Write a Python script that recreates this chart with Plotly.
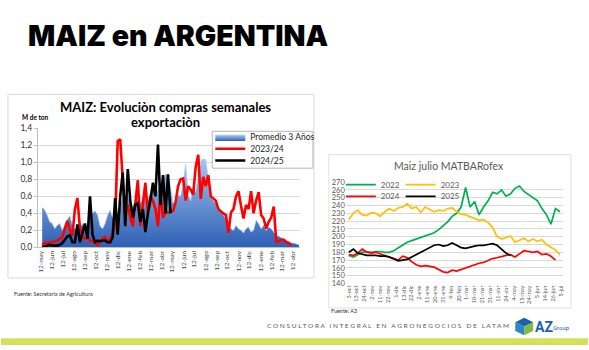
import plotly.graph_objects as go
import pandas as pd

W, H = 589, 350

# ---------------- Left chart data (weekly, M de ton) ----------------
left_week_start = "2023-05-16"
prom_3_anios = [0.47, 0.44, 0.38, 0.30, 0.28, 0.22, 0.26, 0.28, 0.20, 0.27,
                0.33, 0.37, 0.26, 0.22, 0.20, 0.24, 0.28, 0.20, 0.24, 0.33,
                0.40, 0.43, 0.38, 0.25, 0.22, 0.28, 0.38, 0.44, 0.35, 0.40,
                0.32, 0.50, 0.58, 0.55, 0.62, 0.52, 0.48, 0.55, 0.60, 0.52,
                0.58, 0.62, 0.55, 0.65, 0.70, 0.62, 0.68, 0.75, 0.80, 0.86,
                0.84, 0.70, 0.52, 0.55, 0.62, 0.60, 0.75, 0.98, 0.62, 0.55,
                0.72, 0.65, 0.85, 1.02, 1.04, 1.03, 0.80, 0.58, 0.55, 0.52,
                0.48, 0.42, 0.38, 0.34, 0.30, 0.22, 0.20, 0.26, 0.22, 0.20,
                0.17, 0.22, 0.24, 0.18, 0.20, 0.32, 0.28, 0.22, 0.26, 0.20,
                0.24, 0.22, 0.18, 0.14, 0.13, 0.11, 0.10, 0.08, 0.07, 0.05,
                0.05, 0.04, 0.03]
campania_2023_24 = [0.03, 0.05, 0.05, 0.06, 0.06, 0.07, 0.08, 0.10, 0.12, 0.22,
                    0.31, 0.20, 0.14, 0.45, 0.58, 0.22, 0.13, 0.10, 0.12, 0.08,
                    0.07, 0.06, 0.03, 0.08, 0.10, 0.12, 0.06, 0.10, 0.15, 0.30,
                    1.25, 1.27, 0.85, 0.35, 0.50, 0.35, 0.25, 0.55, 0.79, 0.25,
                    0.55, 0.76, 0.40, 0.60, 0.55, 0.45, 0.25, 0.65, 0.35, 0.42,
                    0.41, 0.42, 0.43, 0.53, 0.72, 0.80, 0.81, 0.55, 0.72, 0.68,
                    0.62, 0.95, 1.09, 0.57, 0.83, 0.72, 0.85, 0.60, 0.57, 0.55,
                    0.45, 0.42, 0.40, 0.38, 0.17, 0.41, 0.45, 0.60, 0.66, 0.49,
                    0.34, 0.50, 0.45, 0.66, 0.40, 0.55, 0.65, 0.38, 0.34, 0.22,
                    0.30, 0.35, 0.48, 0.07, 0.07, 0.09, 0.09, 0.06, 0.05, 0.03]
campania_2024_25 = [0.00, 0.01, 0.02, 0.03, 0.02, 0.02, 0.02, 0.03, 0.05, 0.09,
                    0.13, 0.14, 0.06, 0.06, 0.27, 0.06, 0.18, 0.28, 0.10, 0.60,
                    0.15, 0.06, 0.08, 0.07, 0.08, 0.08, 0.06, 0.06, 0.12, 0.58,
                    0.15, 0.60, 0.88, 0.25, 0.92, 0.55, 0.35, 0.50, 0.52, 0.30,
                    0.45, 0.18, 0.40, 0.55, 0.76, 0.60, 1.21, 0.50, 0.85, 0.40,
                    0.86, 0.40]
left_tick_start = "2023-05-12"
left_tick_text = ["12-may", "12-jun", "12-jul", "12-ago", "12-sep", "12-oct",
                  "12-nov", "12-dic", "12-ene", "12-feb", "12-mar", "12-abr",
                  "12-may", "12-jun", "12-jul", "12-ago", "12-sep", "12-oct",
                  "12-nov", "12-dic", "12-ene", "12-feb", "12-mar", "12-abr"]
left_y_ticks = [0.0, 0.2, 0.4, 0.6, 0.8, 1.0, 1.2, 1.4]

# ---------------- Right chart data (Maiz julio MATBARofex) ----------------
right_step = 4  # trading days between readings
serie_2022 = [176, 174, 177, 180, 181, 180, 181, 181, 180, 180,
              182, 186, 190, 193, 195, 197, 199, 201, 203, 205,
              209, 214, 219, 226, 230, 238, 263, 238, 245, 228,
              238, 246, 257, 255, 260, 252, 255, 262, 265, 258,
              254, 251, 246, 236, 228, 216, 236, 232]
serie_2023 = [222, 230, 234, 228, 227, 231, 230, 226, 232, 236,
              233, 237, 238, 242, 236, 238, 231, 238, 235, 232,
              234, 233, 236, 237, 232, 229, 228, 226, 224, 221,
              222, 218, 212, 200, 197, 199, 201, 193, 195, 198,
              194, 197, 194, 196, 190, 186, 183, 177]
serie_2024 = [177, 176, 179, 184, 180, 179, 180, 178, 176, 174,
              172, 170, 175, 173, 168, 164, 162, 163, 162, 161,
              158, 155, 154, 157, 156, 158, 160, 162, 164, 166,
              167, 170, 172, 173, 175, 176, 177, 174, 178, 182,
              181, 180, 181, 177, 178, 175, 170]
serie_2025 = [180, 184, 179, 177, 176, 176, 176, 175, 175, 174,
              171, 169, 170, 171, 174, 177, 180, 183, 186, 189,
              190, 188, 189, 192, 189, 186, 185, 187, 188, 189,
              189, 190, 191, 189, 184, 179, 176]
right_tick_step = 7
right_tick_text = ["3-oct", "13-oct", "24-oct", "2-nov", "11-nov", "22-nov",
                   "1-dic", "13-dic", "22-dic", "2-ene", "11-ene", "20-ene",
                   "31-ene", "9-feb", "20-feb", "1-mar", "10-mar", "21-mar",
                   "31-mar", "11-abr", "24-abr", "4-may", "15-may", "24-may",
                   "5-jun", "14-jun", "26-jun", "5-jul"]


def fx(p):
    return p / W


def fy(p):
    return 1 - p / H


def weeks(n):
    return pd.date_range(left_week_start, periods=n, freq="7D")


def days(n):
    return list(range(0, n * right_step, right_step))


fig = go.Figure()

# ---- left traces ----
fig.add_trace(go.Scatter(
    x=weeks(len(prom_3_anios)), y=prom_3_anios, name="Promedio 3 Años",
    mode="lines", fill="tozeroy",
    line=dict(color="#b3cdf0", width=0.8),
    fillgradient=dict(type="vertical",
                      colorscale=[[0, "#2d5fb4"], [1, "#a6c6ef"]]),
    xaxis="x", yaxis="y", legend="legend5"))
fig.add_trace(go.Scatter(
    x=weeks(len(campania_2023_24)), y=campania_2023_24, name="2023/24",
    mode="lines", line=dict(color="#ff0000", width=2.6),
    xaxis="x", yaxis="y", legend="legend6"))
fig.add_trace(go.Scatter(
    x=weeks(len(campania_2024_25)), y=campania_2024_25, name="2024/25",
    mode="lines", line=dict(color="#000000", width=2.6),
    xaxis="x", yaxis="y", legend="legend7"))

# ---- right traces ----
for serie, name, color, leg in [
        (serie_2022, "2022", "#00b050", "legend"),
        (serie_2023, "2023", "#ffc000", "legend2"),
        (serie_2024, "2024", "#ff0000", "legend3"),
        (serie_2025, "2025", "#000000", "legend4")]:
    fig.add_trace(go.Scatter(
        x=days(len(serie)), y=serie, name=name, mode="lines",
        line=dict(color=color, width=1.7),
        xaxis="x2", yaxis="y2", legend=leg))

left_ticks = pd.date_range(left_tick_start, periods=len(left_tick_text),
                           freq=pd.DateOffset(months=1))
right_ticks = list(range(0, right_tick_step * len(right_tick_text), right_tick_step))

font_main = "Lato"


def legend_at(x, y, size, color):
    return dict(x=fx(x), y=fy(y), xanchor="left", yanchor="middle",
                bgcolor="rgba(0,0,0,0)", borderwidth=0,
                font=dict(family=font_main, size=size, color=color))


fig.update_layout(
    width=W, height=H, autosize=False,
    margin=dict(l=0, r=0, t=0, b=0),
    paper_bgcolor="white", plot_bgcolor="rgba(0,0,0,0)",
    separators=",.",
    font=dict(family=font_main),
    xaxis=dict(domain=[fx(37), fx(300)], type="date",
               range=["2023-05-04", "2025-05-02"],
               tickvals=left_ticks, ticktext=left_tick_text, tickangle=-90,
               tickfont=dict(size=6.5, color="#404040"),
               showgrid=False, showline=True, linecolor="#bfbfbf",
               zeroline=False, anchor="y"),
    yaxis=dict(domain=[fy(249.5), fy(127)], range=[0, 1.4],
               tickvals=left_y_ticks, tickformat=".1f",
               tickfont=dict(size=8.5, color="#333333"),
               gridcolor="#d9d9d9", showline=True, linecolor="#bfbfbf",
               ticks="outside", ticklen=3, tickcolor="#bfbfbf",
               zeroline=False, anchor="x"),
    xaxis2=dict(domain=[fx(346), fx(564)], range=[-2.66, 190.8],
                tickvals=right_ticks, ticktext=right_tick_text, tickangle=-90,
                tickfont=dict(size=5.5, color="#595959"),
                showgrid=False, showline=False, zeroline=False, anchor="y2"),
    yaxis2=dict(domain=[fy(286.7), fy(182.3)], range=[140, 270], dtick=10,
                tickfont=dict(size=7.5, color="#595959"),
                gridcolor="#d9d9d9", showline=False, zeroline=False,
                anchor="x2"),
    legend=legend_at(341, 185, 8, "#595959"),
    legend2=legend_at(401, 185, 8, "#595959"),
    legend3=legend_at(341, 197, 8, "#595959"),
    legend4=legend_at(401, 197, 8, "#595959"),
    legend5=legend_at(210, 136, 8.5, "#1a1a1a"),
    legend6=legend_at(210, 148, 8.5, "#1a1a1a"),
    legend7=legend_at(210, 160, 8.5, "#1a1a1a"),
    showlegend=True,
)

shapes = [
    # left chart frame
    dict(type="rect", xref="paper", yref="paper", x0=fx(7), y0=fy(281),
         x1=fx(314), y1=fy(92), line=dict(color="#d9d9d9", width=1),
         layer="below"),
    # left legend frame
    dict(type="rect", xref="paper", yref="paper", x0=fx(212), y0=fy(168),
         x1=fx(313), y1=fy(130), line=dict(color="#a6a6a6", width=0.8),
         fillcolor="white", layer="above"),
    # right chart frame
    dict(type="rect", xref="paper", yref="paper", x0=fx(329), y0=fy(312),
         x1=fx(572), y1=fy(154), line=dict(color="#e0e0e0", width=1),
         layer="below"),
    # bottom band
    dict(type="rect", xref="paper", yref="paper", x0=0, y0=0,
         x1=1, y1=fy(343), line=dict(width=0), fillcolor="#d5df5c",
         layer="below"),
]


def path(points):
    return "M " + " L ".join(f"{fx(a):.5f},{fy(b):.5f}" for a, b in points) + " Z"


# AZ Group logo cube
shapes += [
    dict(type="path", xref="paper", yref="paper",
         path=path([(525, 322), (534, 326.5), (525, 331), (516, 326.5)]),
         fillcolor="#1f5fa8", line=dict(width=0)),
    dict(type="path", xref="paper", yref="paper",
         path=path([(516, 326.5), (525, 331), (525, 340), (516, 335.5)]),
         fillcolor="#2f86c6", line=dict(width=0)),
    dict(type="path", xref="paper", yref="paper",
         path=path([(525, 331), (534, 326.5), (534, 335.5), (525, 340)]),
         fillcolor="#7dbb42", line=dict(width=0)),
]
fig.update_layout(shapes=shapes)

annotations = [
    dict(text="MAIZ en ARGENTINA", x=fx(25), y=fy(31), xanchor="left",
         yanchor="middle",
         font=dict(family="Inter", size=28.5, weight=900, color="#000000")),
    dict(text="<b>MAIZ: Evoluciòn compras semanales</b>", x=fx(165), y=fy(105),
         xanchor="center", yanchor="middle",
         font=dict(family=font_main, size=13, color="#000000")),
    dict(text="<b>exportaciòn</b>", x=fx(165), y=fy(120.5),
         xanchor="center", yanchor="middle",
         font=dict(family=font_main, size=13, color="#000000")),
    dict(text="<b>M de ton</b>", x=fx(19), y=fy(115.5), xanchor="left",
         yanchor="middle", font=dict(family=font_main, size=6.5, color="#000000")),
    dict(text="Fuente: Secretaria de Agricultura", x=fx(11), y=fy(297.5),
         xanchor="left", yanchor="middle",
         font=dict(family=font_main, size=5.5, color="#333333")),
    dict(text="Maiz julio MATBARofex", x=fx(450), y=fy(166), xanchor="center",
         yanchor="middle", font=dict(family=font_main, size=10.5, color="#595959")),
    dict(text="Fuente: A3", x=fx(329), y=fy(315), xanchor="left",
         yanchor="middle", font=dict(family=font_main, size=5.5, color="#333333")),
    dict(text=" ".join("CONSULTORA INTEGRAL EN AGRONEGOCIOS DE LATAM"),
         x=fx(388), y=fy(330), xanchor="center", yanchor="middle",
         font=dict(family=font_main, size=6.5, color="#595959")),
    dict(text="<b>AZ</b>", x=fx(534), y=fy(331), xanchor="left", yanchor="middle",
         font=dict(family="Roboto", size=14, color="#1d5fae")),
    dict(text="Group", x=fx(552), y=fy(332), xanchor="left", yanchor="middle",
         font=dict(family="Roboto", size=6, color="#1d5fae")),
]
for a in annotations:
    a.update(xref="paper", yref="paper", showarrow=False)
fig.update_layout(annotations=annotations)

fig.write_html("out.html")
